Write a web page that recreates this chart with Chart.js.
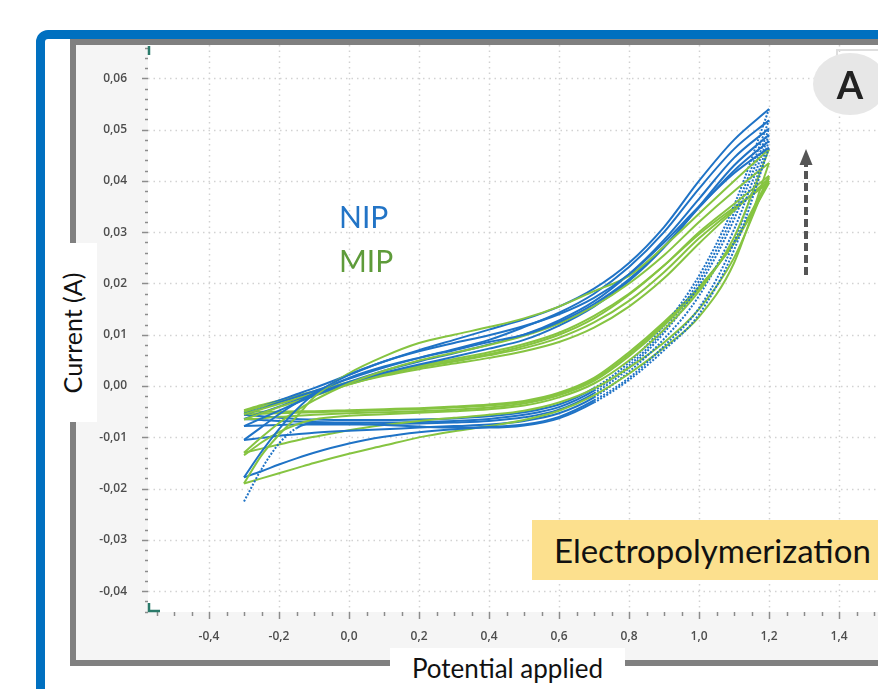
<!DOCTYPE html>
<html>
<head>
<meta charset="utf-8">
<script src="https://cdn.jsdelivr.net/npm/chart.js@4.4.0/dist/chart.umd.min.js"></script>
<style>
html, body { margin: 0; padding: 0; width: 878px; height: 689px; overflow: hidden; background: #fff; font-family: Lato, "Open Sans", sans-serif; }
#blue { position: absolute; left: 36px; top: 30px; width: 1000px; height: 1000px; border: 9px solid #0070c0; border-radius: 12px; }
#gray { position: absolute; left: 70px; top: 39px; width: 1000px; height: 615px; border: 6px solid #808080; background: #f5f5f5; }
#chart { position: absolute; left: 76px; top: 45px; }
.lbl { position: absolute; white-space: nowrap; }
#nip { left: 339px; top: 201px; font-size: 30px; line-height: 30px; color: #2274c6; }
#mip { left: 339px; top: 245px; font-size: 30px; line-height: 30px; color: #5e9b3a; }
#elec { left: 532px; top: 520px; width: 400px; height: 60px; background: #fce08e; font-size: 33px; line-height: 60px; padding-left: 22px; box-sizing: border-box; color: #111; }
#circ { left: 813px; top: 53px; width: 74px; height: 62px; border-radius: 50%; background: #e7e7e7; font-weight: 700; font-size: 38px; line-height: 62px; text-align: center; color: #222; }
#legbox { left: 836px; top: 49px; width: 60px; height: 8px; border-top: 2px solid #dedede; border-left: 2px solid #dedede; }
#ylab { left: 47px; top: 243px; width: 50px; height: 179px; background: #fff; }
#ylab span { position: absolute; left: 50%; top: 50%; transform: translate(-50%, -50%) rotate(-90deg); font-size: 25px; color: #111; white-space: nowrap; }
#xlab { left: 390px; top: 648px; width: 235px; height: 41px; background: #fff; font-size: 26px; line-height: 41px; text-align: center; color: #111; }
</style>
</head>
<body>
<div id="blue"></div>
<div id="gray"></div>
<canvas id="chart" width="802" height="615"></canvas>
<div class="lbl" id="nip">NIP</div>
<div class="lbl" id="mip">MIP</div>
<div class="lbl" id="elec">Electropolymerization</div>
<div class="lbl" id="legbox"></div>
<div class="lbl" id="circ">A</div>
<div class="lbl" id="ylab"><span>Current (A)</span></div>
<div class="lbl" id="xlab">Potential applied</div>
<script>
const potentials = [-0.3, -0.25, -0.2, -0.15, -0.1, 0.0, 0.1, 0.2, 0.3, 0.4, 0.5, 0.6, 0.7, 0.8, 0.9, 1.0, 1.1, 1.2];

// NIP cycles (A), forward scan and reverse scan, one row per cycle
const nipForward = [
  [-0.0225, -0.0162, -0.0112, -0.0082, -0.0072, -0.0073, -0.0076, -0.0079, -0.0081, -0.0081, -0.0077, -0.0063, -0.0032, 0.0012, 0.0070, 0.0140, 0.0265, 0.0465],
  [-0.0178, -0.0166, -0.0153, -0.0141, -0.0130, -0.0112, -0.0099, -0.0090, -0.0084, -0.0080, -0.0075, -0.0060, -0.0028, 0.0016, 0.0078, 0.0152, 0.0280, 0.0478],
  [-0.0105, -0.0101, -0.0097, -0.0094, -0.0091, -0.0087, -0.0084, -0.0081, -0.0078, -0.0075, -0.0068, -0.0053, -0.0022, 0.0028, 0.0092, 0.0176, 0.0305, 0.0490],
  [-0.0078, -0.0077, -0.0076, -0.0075, -0.0075, -0.0075, -0.0074, -0.0073, -0.0071, -0.0068, -0.0061, -0.0046, -0.0014, 0.0035, 0.0104, 0.0196, 0.0325, 0.0502],
  [-0.0064, -0.0066, -0.0068, -0.0069, -0.0070, -0.0071, -0.0071, -0.0070, -0.0068, -0.0064, -0.0056, -0.0041, -0.0009, 0.0040, 0.0110, 0.0205, 0.0338, 0.0518],
  [-0.0056, -0.0059, -0.0062, -0.0064, -0.0065, -0.0066, -0.0066, -0.0065, -0.0063, -0.0059, -0.0051, -0.0036, -0.0004, 0.0046, 0.0118, 0.0215, 0.0352, 0.0540]
];
const nipReverse = [
  [-0.0178, -0.0128, -0.0084, -0.0046, -0.0016, 0.0022, 0.0048, 0.0068, 0.0084, 0.0099, 0.0117, 0.0140, 0.0172, 0.0218, 0.0280, 0.0350, 0.0415, 0.0465],
  [-0.0105, -0.0080, -0.0055, -0.0033, -0.0014, 0.0016, 0.0038, 0.0055, 0.0070, 0.0086, 0.0100, 0.0125, 0.0160, 0.0208, 0.0272, 0.0348, 0.0420, 0.0478],
  [-0.0078, -0.0063, -0.0048, -0.0033, -0.0019, 0.0006, 0.0026, 0.0042, 0.0057, 0.0073, 0.0090, 0.0118, 0.0155, 0.0205, 0.0270, 0.0350, 0.0430, 0.0490],
  [-0.0064, -0.0052, -0.0040, -0.0028, -0.0016, 0.0008, 0.0030, 0.0048, 0.0064, 0.0081, 0.0100, 0.0128, 0.0165, 0.0218, 0.0285, 0.0365, 0.0445, 0.0502],
  [-0.0056, -0.0044, -0.0032, -0.0021, -0.0010, 0.0014, 0.0036, 0.0055, 0.0072, 0.0090, 0.0115, 0.0143, 0.0180, 0.0232, 0.0300, 0.0385, 0.0462, 0.0518],
  [-0.0052, -0.0040, -0.0028, -0.0016, -0.0004, 0.0022, 0.0048, 0.0070, 0.0090, 0.0110, 0.0130, 0.0155, 0.0190, 0.0240, 0.0310, 0.0400, 0.0480, 0.0540]
];

// MIP cycles (A)
const mipForward = [
  [-0.0135, -0.0110, -0.0090, -0.0075, -0.0065, -0.0058, -0.0055, -0.0052, -0.0049, -0.0045, -0.0038, -0.0022, 0.0005, 0.0050, 0.0110, 0.0185, 0.0290, 0.0462],
  [-0.0190, -0.0180, -0.0170, -0.0160, -0.0150, -0.0132, -0.0116, -0.0100, -0.0088, -0.0078, -0.0066, -0.0048, -0.0018, 0.0024, 0.0075, 0.0135, 0.0240, 0.0435],
  [-0.0130, -0.0122, -0.0114, -0.0106, -0.0099, -0.0086, -0.0076, -0.0068, -0.0062, -0.0056, -0.0048, -0.0032, -0.0005, 0.0036, 0.0085, 0.0150, 0.0250, 0.0410],
  [-0.0065, -0.0063, -0.0060, -0.0058, -0.0056, -0.0053, -0.0051, -0.0049, -0.0046, -0.0042, -0.0034, -0.0018, 0.0010, 0.0058, 0.0118, 0.0190, 0.0280, 0.0405],
  [-0.0055, -0.0054, -0.0053, -0.0052, -0.0051, -0.0049, -0.0047, -0.0045, -0.0042, -0.0038, -0.0031, -0.0015, 0.0013, 0.0062, 0.0122, 0.0192, 0.0280, 0.0400],
  [-0.0050, -0.0050, -0.0050, -0.0049, -0.0049, -0.0047, -0.0045, -0.0043, -0.0040, -0.0036, -0.0029, -0.0013, 0.0016, 0.0066, 0.0125, 0.0193, 0.0278, 0.0396]
];
const mipReverse = [
  [-0.0190, -0.0135, -0.0095, -0.0060, -0.0022, 0.0025, 0.0058, 0.0084, 0.0100, 0.0115, 0.0132, 0.0155, 0.0185, 0.0215, 0.0272, 0.0336, 0.0400, 0.0462],
  [-0.0130, -0.0100, -0.0072, -0.0048, -0.0028, 0.0005, 0.0030, 0.0050, 0.0065, 0.0080, 0.0098, 0.0122, 0.0156, 0.0200, 0.0255, 0.0320, 0.0380, 0.0435],
  [-0.0065, -0.0053, -0.0041, -0.0030, -0.0019, 0.0003, 0.0022, 0.0038, 0.0050, 0.0062, 0.0078, 0.0100, 0.0132, 0.0178, 0.0235, 0.0300, 0.0355, 0.0410],
  [-0.0055, -0.0045, -0.0035, -0.0025, -0.0015, 0.0004, 0.0020, 0.0033, 0.0044, 0.0055, 0.0068, 0.0086, 0.0114, 0.0155, 0.0210, 0.0278, 0.0342, 0.0405],
  [-0.0050, -0.0040, -0.0031, -0.0022, -0.0013, 0.0005, 0.0022, 0.0036, 0.0048, 0.0060, 0.0074, 0.0094, 0.0124, 0.0166, 0.0222, 0.0288, 0.0345, 0.0400],
  [-0.0047, -0.0037, -0.0028, -0.0019, -0.0010, 0.0008, 0.0025, 0.0040, 0.0053, 0.0066, 0.0082, 0.0104, 0.0137, 0.0180, 0.0235, 0.0296, 0.0348, 0.0396]
];

const xTicks = [-0.4, -0.2, 0.0, 0.2, 0.4, 0.6, 0.8, 1.0, 1.2, 1.4];
const xTickLabels = ['-0,4', '-0,2', '0,0', '0,2', '0,4', '0,6', '0,8', '1,0', '1,2', '1,4'];
const yTicks = [-0.04, -0.03, -0.02, -0.01, 0.00, 0.01, 0.02, 0.03, 0.04, 0.05, 0.06];
const yTickLabels = ['-0,04', '-0,03', '-0,02', '-0,01', '0,00', '0,01', '0,02', '0,03', '0,04', '0,05', '0,06'];

const NIP_COLOR = '#1f73c6';
const MIP_COLOR = '#86c441';

function branch(values, color, dotted) {
    return {
        data: potentials.map((p, i) => ({ x: p, y: values[i] })),
        borderColor: color,
        borderWidth: 2,
        pointRadius: 0,
        showLine: true,
        fill: false,
        cubicInterpolationMode: 'monotone',
        segment: dotted ? { borderDash: c => dotted(c.p0.parsed.x) ? [2, 1.6] : undefined } : undefined
    };
}

const datasets = [];
for (let i = 0; i < nipForward.length; i++) {
    datasets.push(branch(nipReverse[i], NIP_COLOR));
    datasets.push(branch(nipForward[i], NIP_COLOR, x => x >= 0.65 || (i === 0 && x < -0.15)));
    datasets.push(branch(mipReverse[i], MIP_COLOR));
    datasets.push(branch(mipForward[i], MIP_COLOR));
}

function line(ctx, x1, y1, x2, y2) {
    ctx.beginPath();
    ctx.moveTo(x1, y1);
    ctx.lineTo(x2, y2);
    ctx.stroke();
}

// plot background, dotted grid, minor/major ticks, corner marks and arrow
const decor = {
    id: 'decor',
    beforeDraw(chart) {
        const { ctx, chartArea: a } = chart;
        ctx.save();
        ctx.fillStyle = '#ffffff';
        ctx.fillRect(a.left, a.top, a.right - a.left, a.bottom - a.top);
        ctx.restore();
    },
    beforeDatasetsDraw(chart) {
        const { ctx, chartArea: a, scales: { x, y } } = chart;
        ctx.save();
        ctx.strokeStyle = '#d2d2d2';
        ctx.lineWidth = 1.5;
        ctx.setLineDash([1.5, 4]);
        xTicks.forEach(v => {
            const px = Math.round(x.getPixelForValue(v)) + 0.5;
            line(ctx, px, a.top, px, a.bottom);
        });
        yTicks.forEach(v => {
            const py = Math.round(y.getPixelForValue(v)) + 0.5;
            line(ctx, a.left, py, a.right, py);
        });
        ctx.setLineDash([]);
        ctx.strokeStyle = '#8c8c8c';
        ctx.lineWidth = 1.5;
        for (let k = -11; k <= 30; k++) {
            const v = k * 0.05;
            if (v < x.min || v > x.max) continue;
            const px = Math.round(x.getPixelForValue(v)) + 0.5;
            line(ctx, px, a.bottom, px, a.bottom + (k % 4 === 0 ? 7 : 4));
        }
        for (let k = -22; k <= 33; k++) {
            const v = k * 0.002;
            if (v < y.min || v > y.max) continue;
            const py = Math.round(y.getPixelForValue(v)) + 0.5;
            line(ctx, a.left - (k % 5 === 0 ? 6 : 3), py, a.left, py);
        }
        ctx.restore();
    },
    afterDraw(chart) {
        const { ctx, chartArea: a } = chart;
        ctx.save();
        ctx.strokeStyle = '#2a7a6a';
        ctx.lineWidth = 2.5;
        line(ctx, a.left + 1, a.top + 1, a.left + 1, a.top + 10);
        ctx.beginPath();
        ctx.moveTo(a.left + 1, a.bottom - 9);
        ctx.lineTo(a.left + 1, a.bottom - 1);
        ctx.lineTo(a.left + 12, a.bottom - 1);
        ctx.stroke();
        // dashed arrow on the right
        ctx.strokeStyle = '#555555';
        ctx.fillStyle = '#555555';
        ctx.lineWidth = 4;
        ctx.setLineDash([8, 4]);
        line(ctx, 730, 230, 730, 118);
        ctx.setLineDash([]);
        ctx.beginPath();
        ctx.moveTo(730, 104);
        ctx.lineTo(723.5, 120);
        ctx.lineTo(736.5, 120);
        ctx.closePath();
        ctx.fill();
        ctx.restore();
    }
};

const tickFont = { family: 'Open Sans', size: 12, weight: '600' };

new Chart(document.getElementById('chart'), {
    type: 'scatter',
    data: { datasets },
    options: {
        responsive: false,
        animation: false,
        events: [],
        layout: { padding: 0 },
        plugins: { legend: { display: false }, tooltip: { enabled: false } },
        scales: {
            x: {
                type: 'linear',
                min: -0.5743,
                max: 1.5114,
                afterBuildTicks: s => { s.ticks = xTicks.map(v => ({ value: v })); },
                afterFit: s => { s.height = 48; s.paddingLeft = 0; s.paddingRight = 0; },
                grid: { display: false },
                border: { display: false },
                ticks: {
                    autoSkip: false,
                    maxRotation: 0,
                    padding: 9,
                    color: '#4d4d4d',
                    font: tickFont,
                    callback: (v, i) => xTickLabels[i]
                }
            },
            y: {
                type: 'linear',
                min: -0.04405,
                max: 0.0665,
                afterBuildTicks: s => { s.ticks = yTicks.map(v => ({ value: v })); },
                afterFit: s => { s.width = 72; s.paddingTop = 0; s.paddingBottom = 0; },
                grid: { display: false },
                border: { display: false },
                ticks: {
                    autoSkip: false,
                    padding: 13,
                    color: '#4d4d4d',
                    font: tickFont,
                    callback: (v, i) => yTickLabels[i]
                }
            }
        }
    },
    plugins: [decor]
});
</script>
</body>
</html>
